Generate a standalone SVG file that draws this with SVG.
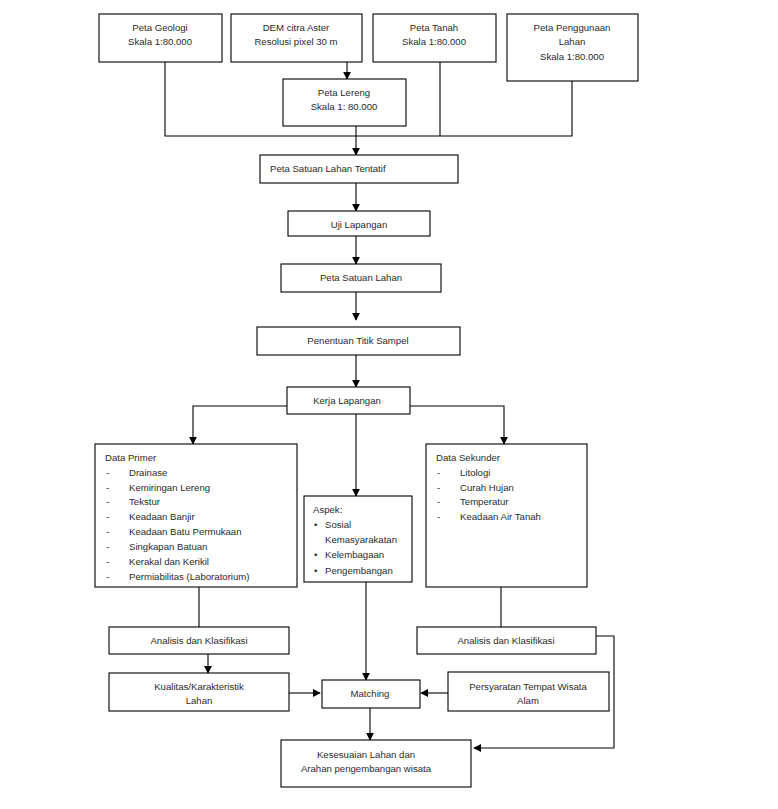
<svg xmlns="http://www.w3.org/2000/svg" width="778" height="809" viewBox="0 0 778 809">
<style>
rect{fill:#fff;stroke:#000;stroke-width:1.1}
text{font-family:"Liberation Sans",Arial,sans-serif;font-size:9.6px;fill:#2a2a2a}
.c{text-anchor:middle}
.ln{fill:none;stroke:#000;stroke-width:1.1}
.ar{fill:none;stroke:#000;stroke-width:1.1;marker-end:url(#ah)}
</style>
<defs>
<marker id="ah" viewBox="0 0 10 10" refX="9" refY="5" markerWidth="8" markerHeight="8" markerUnits="userSpaceOnUse" orient="auto">
<path d="M0,0L10,5L0,10z" fill="#000"/>
</marker>
</defs>
<rect width="778" height="809" style="fill:#fff;stroke:none"/>
<g id="connectors">
<path class="ln" d="M165,62V136H572V81M440,62V136"/>
<path class="ar" d="M347,62V79"/>
<path class="ar" d="M356,126V155"/>
<path class="ar" d="M356,183V211"/>
<path class="ar" d="M356,236V264"/>
<path class="ar" d="M356,292V320"/>
<path class="ar" d="M356,355V387"/>
<path class="ar" d="M287,406H193V444"/>
<path class="ar" d="M410,406H504V444"/>
<path class="ar" d="M356,414V496"/>
<path class="ln" d="M199,587V627"/>
<path class="ln" d="M501,587V627"/>
<path class="ar" d="M208,654V673"/>
<path class="ar" d="M289,693H320"/>
<path class="ar" d="M448,693H421"/>
<path class="ar" d="M366,582V680"/>
<path class="ar" d="M370,708V740"/>
<path class="ar" d="M596,636H614V748H474"/>
</g>
<g id="peta-geologi"><rect x="99" y="14" width="123" height="48"/><text class="c" x="160" y="31">Peta Geologi</text><text class="c" x="160" y="45">Skala 1:80.000</text></g>
<g id="dem"><rect x="231" y="14" width="131" height="48"/><text class="c" x="296" y="31">DEM citra Aster</text><text class="c" x="296" y="45">Resolusi pixel 30 m</text></g>
<g id="peta-tanah"><rect x="373" y="14" width="123" height="48"/><text class="c" x="434" y="31">Peta Tanah</text><text class="c" x="434" y="45">Skala 1:80.000</text></g>
<g id="peta-penggunaan"><rect x="507" y="14" width="131" height="67"/><text class="c" x="572" y="31">Peta Penggunaan</text><text class="c" x="572" y="45">Lahan</text><text class="c" x="572" y="60">Skala 1:80.000</text></g>
<g id="peta-lereng"><rect x="283" y="79" width="123" height="47"/><text class="c" x="344" y="96">Peta Lereng</text><text class="c" x="344" y="110">Skala 1: 80.000</text></g>
<g id="tentatif"><rect x="260" y="155" width="198" height="28"/><text x="270" y="172">Peta Satuan Lahan Tentatif</text></g>
<g id="uji"><rect x="288" y="211" width="142" height="25"/><text class="c" x="359" y="228">Uji Lapangan</text></g>
<g id="psl"><rect x="281" y="264" width="160" height="28"/><text class="c" x="361" y="281">Peta Satuan Lahan</text></g>
<g id="penentuan"><rect x="257" y="327" width="203" height="28"/><text class="c" x="358" y="344">Penentuan Titik Sampel</text></g>
<g id="kerja"><rect x="287" y="387" width="123" height="27"/><text class="c" x="347" y="404">Kerja Lapangan</text></g>
<g id="data-primer"><rect x="95" y="444" width="202" height="143"/>
<text x="105" y="461">Data Primer</text>
<text x="106" y="476">-</text><text x="129" y="476">Drainase</text>
<text x="106" y="491">-</text><text x="129" y="491">Kemiringan Lereng</text>
<text x="106" y="505">-</text><text x="129" y="505">Tekstur</text>
<text x="106" y="520">-</text><text x="129" y="520">Keadaan Banjir</text>
<text x="106" y="535">-</text><text x="129" y="535">Keadaan Batu Permukaan</text>
<text x="106" y="550">-</text><text x="129" y="550">Singkapan Batuan</text>
<text x="106" y="565">-</text><text x="129" y="565">Kerakal dan Kerikil</text>
<text x="106" y="580">-</text><text x="129" y="580">Permiabilitas (Laboratorium)</text>
</g>
<g id="aspek"><rect x="304" y="496" width="108" height="86"/>
<text x="313" y="513">Aspek:</text>
<text x="314" y="528">•</text><text x="325" y="528">Sosial</text>
<text x="325" y="543">Kemasyarakatan</text>
<text x="314" y="558">•</text><text x="325" y="558">Kelembagaan</text>
<text x="314" y="574">•</text><text x="325" y="574">Pengembangan</text>
</g>
<g id="data-sekunder"><rect x="426" y="444" width="161" height="143"/>
<text x="436" y="461">Data Sekunder</text>
<text x="437" y="476">-</text><text x="460" y="476">Litologi</text>
<text x="437" y="491">-</text><text x="460" y="491">Curah Hujan</text>
<text x="437" y="505">-</text><text x="460" y="505">Temperatur</text>
<text x="437" y="520">-</text><text x="460" y="520">Keadaan Air Tanah</text>
</g>
<g id="analisis-1"><rect x="109" y="627" width="180" height="27"/><text class="c" x="199" y="644">Analisis dan Klasifikasi</text></g>
<g id="analisis-2"><rect x="417" y="627" width="179" height="27"/><text class="c" x="506" y="644">Analisis dan Klasifikasi</text></g>
<g id="kualitas"><rect x="109" y="673" width="180" height="38"/><text class="c" x="199" y="690">Kualitas/Karakteristik</text><text class="c" x="199" y="704">Lahan</text></g>
<g id="matching"><rect x="322" y="680" width="98" height="28"/><text class="c" x="370" y="697">Matching</text></g>
<g id="persyaratan"><rect x="448" y="672" width="161" height="39"/><text class="c" x="528" y="690">Persyaratan Tempat Wisata</text><text class="c" x="528" y="704">Alam</text></g>
<g id="kesesuaian"><rect x="281" y="740" width="190" height="47"/><text class="c" x="366" y="758">Kesesuaian Lahan dan</text><text class="c" x="366" y="772">Arahan pengembangan wisata</text></g>
</svg>
